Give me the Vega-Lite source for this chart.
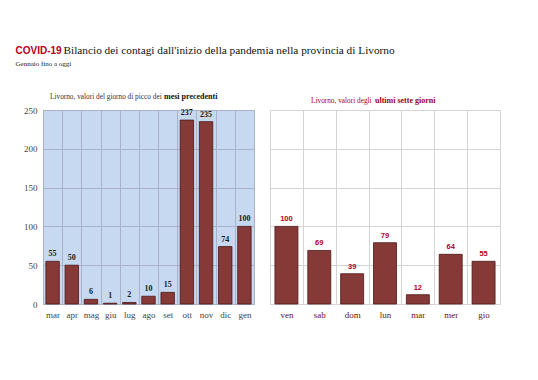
{
  "$schema": "https://vega.github.io/schema/vega-lite/v6.json",
  "background": "white",
  "padding": {"left": 15, "top": 44, "right": 10, "bottom": 5},
  "datasets": {
    "mesi": [
      {"periodo": "mar", "casi": 55},
      {"periodo": "apr", "casi": 50},
      {"periodo": "mag", "casi": 6},
      {"periodo": "giu", "casi": 1},
      {"periodo": "lug", "casi": 2},
      {"periodo": "ago", "casi": 10},
      {"periodo": "set", "casi": 15},
      {"periodo": "ott", "casi": 237},
      {"periodo": "nov", "casi": 235},
      {"periodo": "dic", "casi": 74},
      {"periodo": "gen", "casi": 100}
    ],
    "giorni": [
      {"periodo": "ven", "casi": 100},
      {"periodo": "sab", "casi": 69},
      {"periodo": "dom", "casi": 39},
      {"periodo": "lun", "casi": 79},
      {"periodo": "mar", "casi": 12},
      {"periodo": "mer", "casi": 64},
      {"periodo": "gio", "casi": 55}
    ]
  },
  "title": {
    "text": "COVID-19",
    "subtitle": "\u200b\u2003\u2003\u2003\u2003\u00a0Bilancio dei contagi dall'inizio della pandemia nella provincia di Livorno",
    "anchor": "start",
    "font": "Liberation Sans",
    "fontWeight": "bold",
    "fontSize": 10,
    "color": "#B3001B",
    "subtitleFont": "Liberation Serif",
    "subtitleFontSize": 11.3,
    "subtitleColor": "#111111",
    "subtitlePadding": -11,
    "offset": 3
  },
  "vconcat": [
    {
      "title": {
        "text": "Gennaio fino a oggi",
        "anchor": "start",
        "font": "Liberation Serif",
        "fontSize": 7,
        "fontWeight": "normal",
        "color": "#222222",
        "offset": 25
      },
      "spacing": 14,
      "hconcat": [
        {
          "width": 211,
          "height": 194,
          "data": {"name": "mesi"},
          "title": {
            "text": "Livorno, valori del giorno di picco dei",
            "subtitle": "\u200b\u2003\u2003\u2003\u2003\u2003\u2003\u2003\u2003\u2003\u2003\u2003\u2003\u2003\u2003\u00a0mesi precedenti",
            "anchor": "start",
            "frame": "group",
            "dx": 7,
            "font": "Liberation Serif",
            "fontSize": 7.3,
            "fontWeight": "normal",
            "color": "#333333",
            "subtitleFont": "Liberation Serif",
            "subtitleFontSize": 8,
            "subtitleFontWeight": "bold",
            "subtitleColor": "#111111",
            "subtitlePadding": -7.8,
            "offset": 5
          },
          "view": {"fill": "#C6D9F1", "stroke": "#A9AFC4", "strokeWidth": 1},
          "encoding": {
            "x": {
              "field": "periodo", "type": "nominal", "sort": null,
              "scale": {"paddingInner": 0, "paddingOuter": 0},
              "axis": {
                "title": null, "labelAngle": 0, "ticks": false, "domain": false,
                "grid": true, "tickBand": "extent", "gridColor": "#A9B2C8", "gridWidth": 1,
                "labelFont": "Liberation Serif", "labelFontSize": 9, "labelColor": "#444444", "labelPadding": 6
              }
            },
            "y": {
              "field": "casi", "type": "quantitative",
              "scale": {"domain": [0, 250], "nice": false},
              "axis": {
                "title": null, "values": [0, 50, 100, 150, 200, 250], "ticks": false, "domain": false,
                "grid": true, "gridColor": "#A9B2C8", "gridWidth": 1, "minExtent": 27,
                "labelFont": "Liberation Serif", "labelFontSize": 9, "labelColor": "#444444", "labelPadding": 6
              }
            }
          },
          "layer": [
            {"mark": {"type": "bar", "width": {"band": 0.7}, "color": "#853A38", "stroke": "#4E1616", "strokeWidth": 0.8}},
            {
              "mark": {"type": "text", "baseline": "bottom", "dy": -3, "font": "Liberation Serif", "fontSize": 8, "fontWeight": "bold", "color": "#1a1a1a"},
              "encoding": {"text": {"field": "casi", "type": "quantitative"}}
            }
          ]
        },
        {
          "width": 230,
          "height": 194,
          "data": {"name": "giorni"},
          "title": {
            "text": "Livorno, valori degli",
            "subtitle": "\u200b\u2003\u2003\u2003\u2003\u2003\u2003\u2003\u2003ultimi sette giorni",
            "anchor": "start",
            "frame": "group",
            "dx": 41,
            "font": "Liberation Serif",
            "fontSize": 7.3,
            "fontWeight": "normal",
            "color": "#B3001B",
            "subtitleFont": "Liberation Serif",
            "subtitleFontSize": 8,
            "subtitleFontWeight": "bold",
            "subtitleColor": "#A00018",
            "subtitlePadding": -7.8,
            "offset": 5
          },
          "view": {"fill": "white", "stroke": "#D4D4D4", "strokeWidth": 1},
          "encoding": {
            "x": {
              "field": "periodo", "type": "nominal", "sort": null,
              "scale": {"paddingInner": 0, "paddingOuter": 0},
              "axis": {
                "title": null, "labelAngle": 0, "ticks": false, "domain": false,
                "grid": true, "tickBand": "extent", "gridColor": "#D4D4D4", "gridWidth": 1,
                "labelFont": "Liberation Serif", "labelFontSize": 9, "labelColor": "#6B1010", "labelPadding": 6
              }
            },
            "y": {
              "field": "casi", "type": "quantitative",
              "scale": {"domain": [0, 250], "nice": false},
              "axis": {
                "title": null, "values": [0, 50, 100, 150, 200, 250], "ticks": false, "domain": false,
                "labels": false, "grid": true, "gridColor": "#D4D4D4", "gridWidth": 1
              }
            }
          },
          "layer": [
            {"mark": {"type": "bar", "width": {"band": 0.7}, "color": "#853A38", "stroke": "#4E1616", "strokeWidth": 0.8}},
            {
              "mark": {"type": "text", "baseline": "bottom", "dy": -3, "font": "Liberation Sans", "fontSize": 7.5, "fontWeight": "bold", "color": "#B3001B"},
              "encoding": {"text": {"field": "casi", "type": "quantitative"}}
            }
          ]
        }
      ]
    }
  ]
}
